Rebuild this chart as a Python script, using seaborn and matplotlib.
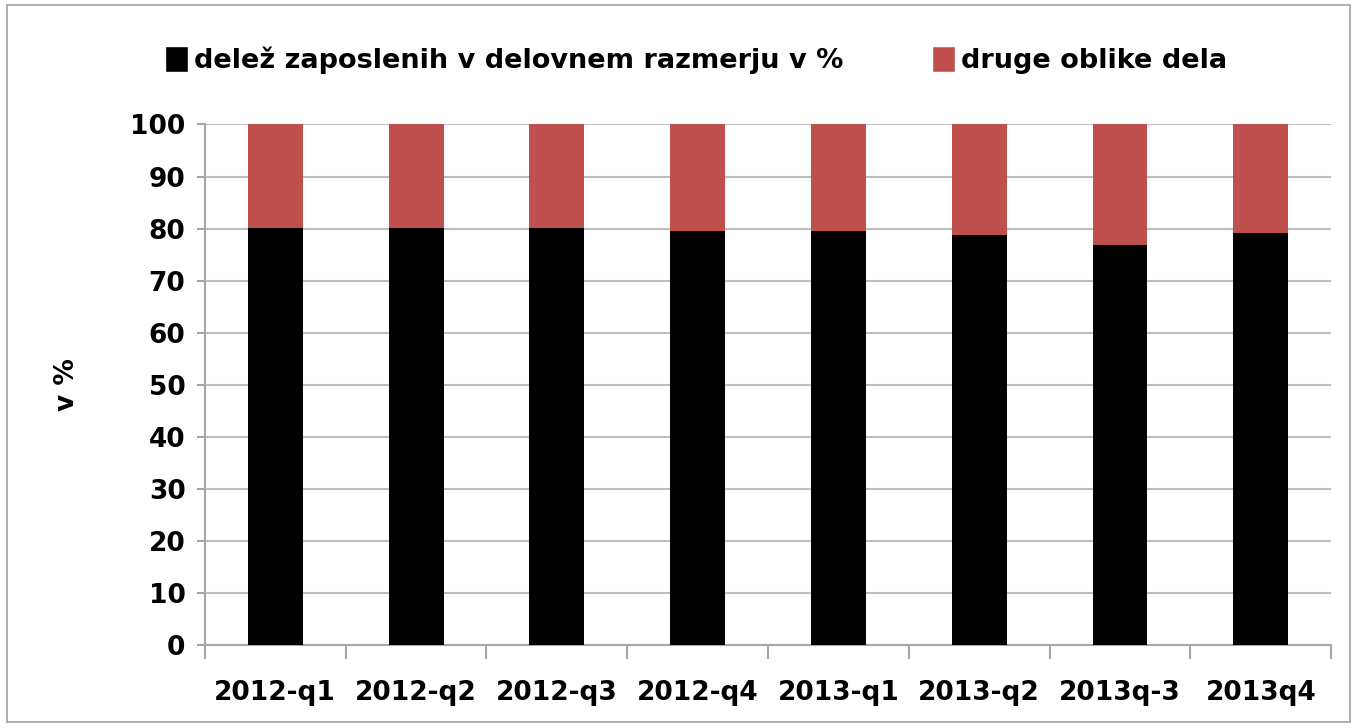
import matplotlib
matplotlib.use("Agg")
import matplotlib.pyplot as plt
import seaborn as sns
import pandas as pd
from matplotlib.patches import Rectangle, Patch
from matplotlib.ticker import FixedLocator

# data
quarters = ["2012-q1", "2012-q2", "2012-q3", "2012-q4",
            "2013-q1", "2013-q2", "2013q-3", "2013q4"]
part_time = [80.1, 80.1, 80.1, 79.6, 79.6, 78.7, 76.8, 79.1]
other = [19.9, 19.9, 19.9, 20.4, 20.4, 21.3, 23.2, 20.9]

df = pd.DataFrame({"q": quarters, "part": part_time, "other": other})
df["total"] = df["part"] + df["other"]

sns.set_style("white")
plt.rcParams["font.family"] = ["DejaVu Sans"]
plt.rcParams["font.weight"] = "bold"
plt.rcParams["text.color"] = "black"
plt.rcParams["xtick.color"] = "black"
plt.rcParams["ytick.color"] = "black"

fig = plt.figure(figsize=(13.57, 7.28), dpi=100)
ax = fig.add_axes([0.151, 0.114, 0.830, 0.715])

red = "#C0504D"
sns.barplot(data=df, x="q", y="total", color=red, width=0.39,
            saturation=1, linewidth=0, ax=ax, zorder=3)
sns.barplot(data=df, x="q", y="part", color="black", width=0.39,
            saturation=1, linewidth=0, ax=ax, zorder=4)

ax.set_ylim(0, 100)
ax.set_xlim(-0.5, len(quarters) - 0.5)
ax.set_yticks(range(0, 101, 10))
ax.yaxis.grid(True, color="#BDBDBD", linewidth=1.5, zorder=0)
ax.set_axisbelow(True)
for s in ["top", "right"]:
    ax.spines[s].set_visible(False)
for s in ["left", "bottom"]:
    ax.spines[s].set_color("#A6A6A6")
    ax.spines[s].set_linewidth(1.5)

ax.tick_params(axis="y", labelsize=19, left=True, length=6,
               color="#A6A6A6", labelcolor="black", width=1.5, pad=8)
ax.tick_params(axis="x", which="major", bottom=False, labelsize=19,
               labelcolor="black", pad=22)
ax.xaxis.set_minor_locator(FixedLocator([i - 0.5 for i in range(len(quarters) + 1)]))
ax.tick_params(axis="x", which="minor", bottom=True, length=10,
               color="#A6A6A6", width=1.5)
for t in ax.get_xticklabels() + ax.get_yticklabels():
    t.set_fontweight("heavy")

ax.set_xlabel("")
ax.set_ylabel("v %", fontsize=19, fontweight="heavy", color="black", labelpad=36)

handles = [Patch(facecolor="black", label="delež zaposlenih v delovnem razmerju v %"),
           Patch(facecolor=red, label="druge oblike dela")]
fig.legend(handles=handles, loc="center", bbox_to_anchor=(0.513, 0.918), ncol=2,
           frameon=False, handlelength=0.85, handleheight=1.1,
           handletextpad=0.2, columnspacing=3.3,
           prop={"weight": "heavy", "size": 19.5})

fig.patches.append(Rectangle((0.005, 0.008), 0.99, 0.985, transform=fig.transFigure,
                             fill=False, edgecolor="#A0A0A0", linewidth=1.2))

fig.savefig("out.png", dpi=100)
